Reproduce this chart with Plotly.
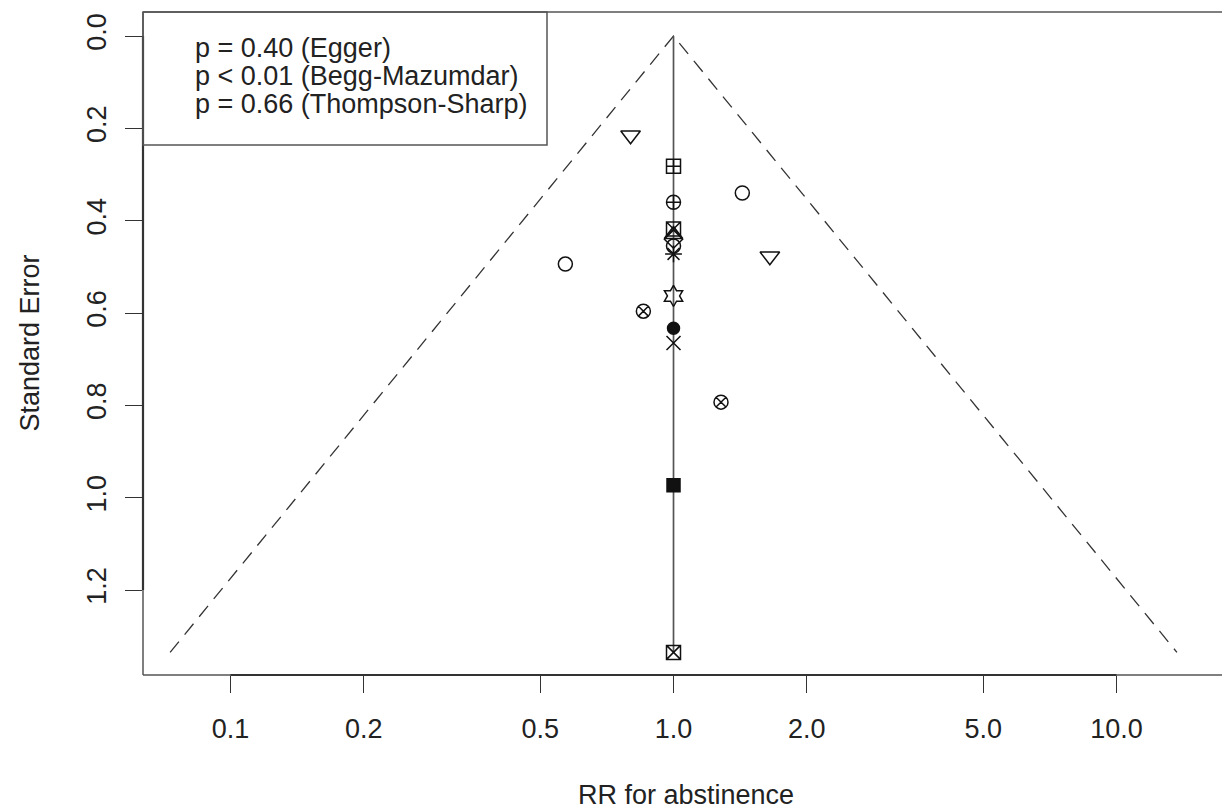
import numpy as np
import plotly.graph_objects as go

# ---- data ----
rr = [0.80, 1.00, 1.43, 1.00, 1.00, 1.00, 1.00, 1.00, 1.00, 1.65, 0.57, 1.00, 0.855, 1.00, 1.00, 1.28, 1.00, 1.00]
se = [0.215, 0.282, 0.340, 0.360, 0.418, 0.430, 0.440, 0.455, 0.472, 0.477, 0.494, 0.563, 0.596, 0.633, 0.665, 0.793, 0.973, 1.335]
symbols = ["triangle-down-open", "square-cross-open", "circle-open", "circle-cross-open",
           "square-x-open", "triangle-up-open", "diamond-open", "circle-open", "asterisk-open",
           "triangle-down-open", "circle-open", "hexagram-open", "circle-x-open", "circle",
           "x-thin-open", "circle-x-open", "square", "square-x-open"]
pooled_rr = 1.0
z_crit = 1.96

x_tickvals = [0.1, 0.2, 0.5, 1.0, 2.0, 5.0, 10.0]
x_ticktext = ["0.1", "0.2", "0.5", "1.0", "2.0", "5.0", "10.0"]
y_tickvals = [0.0, 0.2, 0.4, 0.6, 0.8, 1.0, 1.2]
y_ticktext = ["0.0", "0.2", "0.4", "0.6", "0.8", "1.0", "1.2"]

legend_lines = ["p = 0.40 (Egger)", "p < 0.01 (Begg-Mazumdar)", "p = 0.66 (Thompson-Sharp)"]

x_title = "RR for abstinence"
y_title = "Standard Error"

# ---- layout / style constants ----
W, H = 1222, 812
ML, MR, MT, MB = 143, 0, 12, 137
xr = [-1.1975, 1.2381]       # log10 range
yr = [1.384, -0.052]         # reversed
FONT = "Liberation Sans, Arial, sans-serif"
FS = 27
TXT = "#222222"
symbol_size = {"triangle-down-open": 17, "triangle-up-open": 16, "hexagram-open": 16,
               "circle": 12, "square": 13}

pw = W - ML - MR
ph = H - MT - MB

def px_x(p):  # pixel -> paper x
    return (p - ML) / pw

def px_y(p):  # pixel -> paper y
    return (H - MB - p) / ph

def log_paper(v):
    return (np.log10(v) - xr[0]) / (xr[1] - xr[0])

def se_paper(v):
    return (v - yr[0]) / (yr[1] - yr[0])

se_max = max(se)
fx = [pooled_rr * np.exp(-z_crit * se_max), pooled_rr, pooled_rr * np.exp(z_crit * se_max)]
fy = [se_max, 0.0, se_max]

fig = go.Figure()
fig.add_trace(go.Scatter(x=fx, y=fy, mode="lines",
                         line=dict(color="#333333", width=1.3, dash="14px,9px"),
                         hoverinfo="skip", showlegend=False))
fig.add_trace(go.Scatter(x=[pooled_rr, pooled_rr], y=[0.0, se_max], mode="lines",
                         line=dict(color="#555555", width=1.7),
                         hoverinfo="skip", showlegend=False))
fig.add_trace(go.Scatter(x=rr, y=se, mode="markers",
                         marker=dict(symbol=symbols, size=[symbol_size.get(s, 14) for s in symbols],
                                     color="#111111", opacity=1,
                                     line=dict(color="#111111", width=1.5)),
                         cliponaxis=False, showlegend=False))

shapes = []
box_col = "#555555"
# plot box (top, left, bottom)
shapes.append(dict(type="line", xref="paper", yref="paper", x0=0, x1=1, y0=1, y1=1,
                   line=dict(color=box_col, width=1.5)))
shapes.append(dict(type="line", xref="paper", yref="paper", x0=0, x1=0, y0=0, y1=1,
                   line=dict(color=box_col, width=1.5)))
shapes.append(dict(type="line", xref="paper", yref="paper", x0=0, x1=1, y0=0, y1=0,
                   line=dict(color=box_col, width=1.5)))
# axis segments
shapes.append(dict(type="line", xref="paper", yref="paper",
                   x0=log_paper(x_tickvals[0]), x1=log_paper(x_tickvals[-1]), y0=0, y1=0,
                   line=dict(color="#333333", width=2.2)))
shapes.append(dict(type="line", xref="paper", yref="paper", x0=0, x1=0,
                   y0=se_paper(y_tickvals[0]), y1=se_paper(y_tickvals[-1]),
                   line=dict(color="#333333", width=2.2)))
# legend box
shapes.append(dict(type="rect", xref="paper", yref="paper",
                   x0=0, x1=px_x(547), y0=px_y(145), y1=1,
                   line=dict(color=box_col, width=1.5), fillcolor="rgba(0,0,0,0)"))

annotations = []
for i, t in enumerate(legend_lines):
    annotations.append(dict(text=t, xref="paper", yref="paper", x=px_x(193), y=px_y(48 + 28 * i),
                            xanchor="left", yanchor="middle", showarrow=False,
                            font=dict(family=FONT, size=FS, color=TXT)))
annotations.append(dict(text=x_title, xref="paper", yref="paper", x=px_x(686), y=px_y(795),
                        xanchor="center", yanchor="middle", showarrow=False,
                        font=dict(family=FONT, size=FS, color=TXT)))
annotations.append(dict(text=y_title, xref="paper", yref="paper", x=px_x(29), y=0.5,
                        xanchor="center", yanchor="middle", showarrow=False, textangle=-90,
                        font=dict(family=FONT, size=FS, color=TXT)))

fig.update_layout(
    width=W, height=H,
    margin=dict(l=ML, r=MR, t=MT, b=MB, pad=0),
    paper_bgcolor="white", plot_bgcolor="white",
    showlegend=False,
    shapes=shapes, annotations=annotations,
    xaxis=dict(type="log", range=xr, tickvals=x_tickvals, ticktext=x_ticktext,
               ticks="outside", ticklen=17, tickwidth=1.3, tickcolor="#333333",
               showgrid=False, zeroline=False, showline=False,
               tickfont=dict(family=FONT, size=FS, color=TXT), ticklabelstandoff=13),
    yaxis=dict(range=yr, tickvals=y_tickvals, ticktext=y_ticktext, tickangle=-90,
               ticks="outside", ticklen=17, tickwidth=1.3, tickcolor="#333333",
               showgrid=False, zeroline=False, showline=False,
               tickfont=dict(family=FONT, size=FS, color=TXT), ticklabelstandoff=8),
)

fig.write_html("out.html")
